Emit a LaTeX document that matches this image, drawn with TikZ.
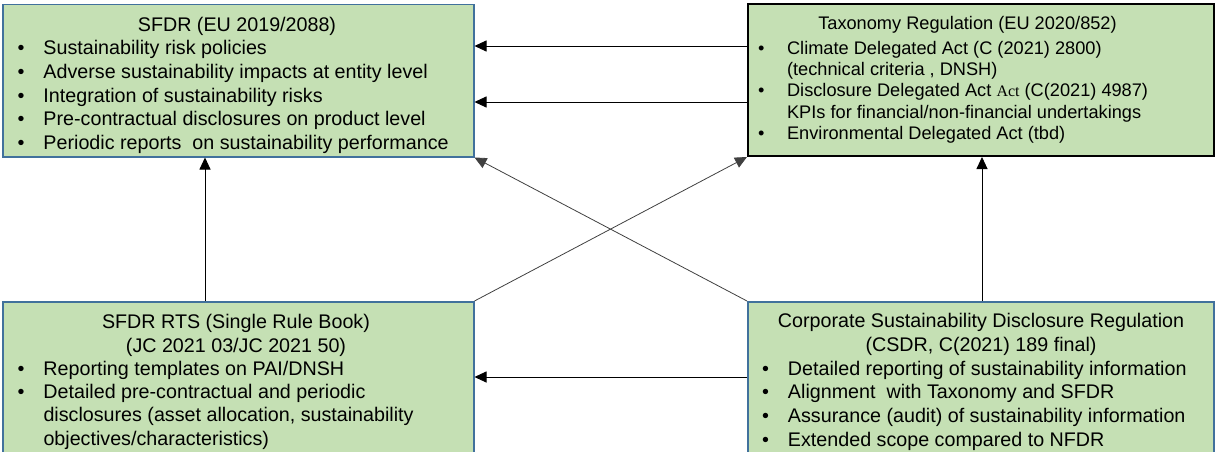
\documentclass[tikz,border=0pt]{standalone}
\usepackage{fontspec}
\setmainfont{Liberation Sans}
\newfontfamily\actserif{Liberation Serif}
\usetikzlibrary{arrows.meta}
\definecolor{boxgreen}{HTML}{C5E0B4}
\definecolor{boxblue}{HTML}{41719C}
\newcommand\bulA{\makebox[26pt][l]{\textbullet}}
\newcommand\bulB{\makebox[29pt][l]{\textbullet}}
\begin{document}
\begin{tikzpicture}[x=1pt,y=-1pt,
  bluebox/.style={draw=boxblue, line width=1.5pt, fill=boxgreen, anchor=north west, inner sep=0pt},
  blackbox/.style={draw=black, line width=2pt, fill=boxgreen, anchor=north west, inner sep=0pt},
  txt/.style={font=\fontsize{19.7}{23.8}\selectfont, inner sep=0pt, anchor=base west},
  ttl/.style={font=\fontsize{19.7}{23.8}\selectfont, inner sep=0pt, anchor=base},
  taxtxt/.style={font=\fontsize{18.2}{21}\selectfont, inner sep=0pt, anchor=base west},
  taxttl/.style={font=\fontsize{18.2}{21}\selectfont, inner sep=0pt, anchor=base},
  arr/.style={draw=black, line width=0.9pt, -{Triangle[length=12pt,width=11pt]}},
  diag/.style={draw=black!75, line width=0.8pt, -{Triangle[length=12pt,width=11pt]}}]
\useasboundingbox (0,0) rectangle (1215,452);
\clip (0,0) rectangle (1215,452);

% boxes
\node[bluebox, minimum width=471pt, minimum height=152pt] (sfdr) at (2,4) {};
\node[blackbox, minimum width=466pt, minimum height=152pt] (tax) at (747,3) {};
\node[bluebox, minimum width=471pt, minimum height=170pt] (rts) at (2,301) {};
\node[bluebox, minimum width=466pt, minimum height=170pt] (csdr) at (747,301) {};

% SFDR text
\node[ttl] (sfdrT) at (237,31.5) {SFDR (EU 2019/2088)};
\node[txt] (sfdr1) at (17.3,54.5) {\bulA Sustainability risk policies};
\node[txt] (sfdr2) at (17.3,78.3) {\bulA Adverse sustainability impacts at entity level};
\node[txt] (sfdr3) at (17.3,102.1) {\bulA Integration of sustainability risks};
\node[txt] (sfdr4) at (17.3,125.9) {\bulA Pre-contractual disclosures on product level};
\node[txt] (sfdr5) at (17.3,149.7) {\bulA Periodic reports\ \ on sustainability performance};

% Taxonomy text
\node[taxttl] (taxT) at (967.5,29.5) {Taxonomy Regulation (EU 2020/852)};
\node[taxtxt] (tax1) at (757.9,54.3) {\bulB Climate Delegated Act (C (2021) 2800)};
\node[taxtxt] (tax2) at (757.9,75.6) {\hspace*{29pt}(technical criteria , DNSH)};
\node[taxtxt] (tax3) at (757.9,96.9) {\bulB Disclosure Delegated Act {\actserif\fontsize{16}{19}\selectfont Act} (C(2021) 4987)};
\node[taxtxt] (tax4) at (757.9,118.2) {\hspace*{29pt}KPIs for financial/non-financial undertakings};
\node[taxtxt] (tax5) at (757.9,139.5) {\bulB Environmental Delegated Act (tbd)};

% SFDR RTS text
\node[ttl] (rtsT1) at (236,328.5) {SFDR RTS (Single Rule Book)};
\node[ttl] (rtsT2) at (236,352) {(JC 2021 03/JC 2021 50)};
\node[txt] (rts1) at (17.3,375.3) {\bulA Reporting templates on PAI/DNSH};
\node[txt] (rts2) at (17.3,398.6) {\bulA Detailed pre-contractual and periodic};
\node[txt] (rts3) at (17.3,421.9) {\hspace*{26pt}disclosures (asset allocation, sustainability};
\node[txt] (rts4) at (17.3,445.2) {\hspace*{26pt}objectives/characteristics)};

% CSDR text
\node[ttl] (csdrT1) at (981,327.4) {Corporate Sustainability Disclosure Regulation};
\node[ttl] (csdrT2) at (981,351) {(CSDR, C(2021) 189 final)};
\node[txt] (csdr1) at (761.8,375) {\bulA Detailed reporting of sustainability information};
\node[txt] (csdr2) at (761.8,398.8) {\bulA Alignment\ \ with Taxonomy and SFDR};
\node[txt] (csdr3) at (761.8,422.6) {\bulA Assurance (audit) of sustainability information};
\node[txt] (csdr4) at (761.8,446.4) {\bulA Extended scope compared to NFDR};

% connectors
\coordinate (h1) at (0,46);
\coordinate (h2) at (0,102);
\coordinate (h3) at (0,377);
\coordinate (v1) at (205,0);
\coordinate (v2) at (982,0);
\draw[arr] (h1 -| tax.west) -- (h1 -| sfdr.east);
\draw[arr] (h2 -| tax.west) -- (h2 -| sfdr.east);
\draw[arr] (h3 -| csdr.west) -- (h3 -| rts.east);
\draw[arr] (v1 |- rts.north) -- (v1 |- sfdr.south);
\draw[arr] (v2 |- csdr.north) -- (v2 |- tax.south);
\draw[diag] (rts.north east) -- (tax.south west);
\draw[diag] (csdr.north west) -- (sfdr.south east);
\end{tikzpicture}
\end{document}
